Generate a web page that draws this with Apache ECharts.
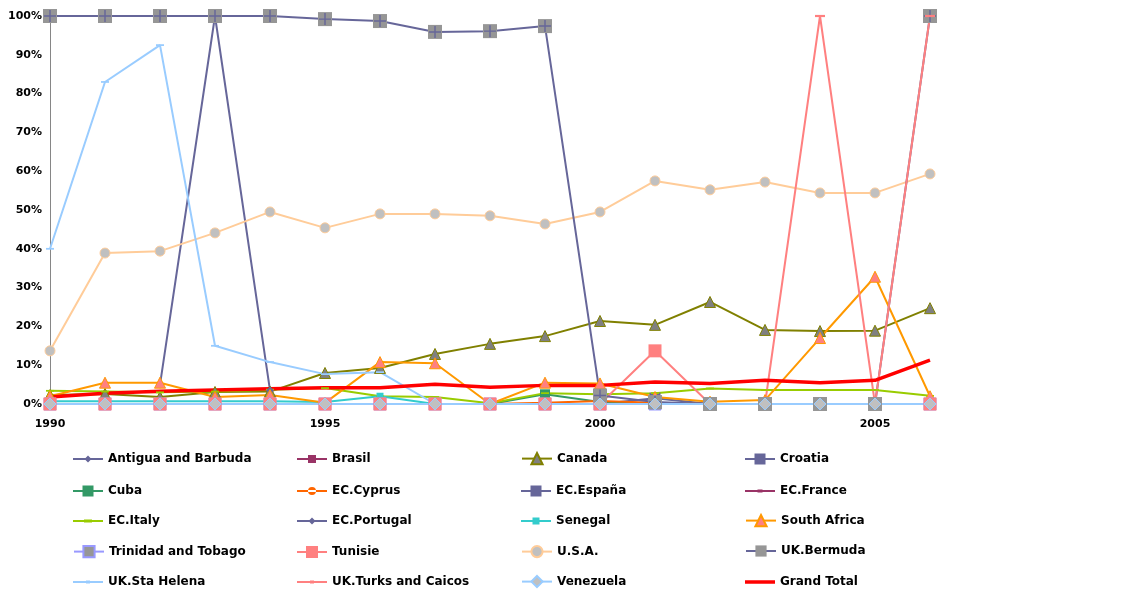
<!DOCTYPE html>
<html>
<head>
<meta charset="utf-8">
<script src="https://cdn.jsdelivr.net/npm/echarts@6/dist/echarts.min.js"></script>
<style>html,body{margin:0;padding:0;background:#fff}#c{width:1135px;height:592px}</style>
</head>
<body>
<div id="c"></div>
<script>
const years = ['1990','1991','1992','1993','1994','1995','1996','1997','1998','1999','2000','2001','2002','2003','2004','2005','2006'];
const antigua   = [0,0,0,0,0,0,0,0,0,0,0,0,0,0,0,0,0];
const brasil    = [0,0,0,0,0,0,0,0,0,0,0,0,0,0,0,0,0];
const canada    = [2.3,2.6,1.8,3.1,3.2,8.0,9.3,12.9,15.5,17.5,21.4,20.4,26.3,19.1,18.8,18.9,24.7];
const croatia   = [0,0,0,0,0,0,0,0,0,0,0,1.5,0,0,0,0,0];
const cuba      = [0,0,0,0,0,0,0,0,0,2.5,0.5,0,0,0,0,0,0];
const cyprus    = [0,0,0,0,0,0,0,0,0,0.3,0.8,0.3,0,0,0,0,0];
const espana    = [0,0,0,0,0,0,0,0,0,0,0,0,0,0,0,0,0];
const france    = [0,0,0,0,0,0,0,0,0,0,0,0,0,0,0,0,0];
const italy     = [3.4,3.2,3.0,3.2,3.7,4.1,2.0,1.8,0.2,2.8,2.5,2.8,4.0,3.6,3.6,3.6,2.1];
const portugal  = [null,null,5,100,3.5,null,null,null,null,null,null,null,null,null,null,null,null];
const senegal   = [0.7,0.7,0.7,0.7,0.7,0.5,2.0,0,0,0,0,0,0,0,0,0,0];
const southAfrica = [2.0,5.5,5.5,1.8,2.3,0.3,10.8,10.5,0,5.5,5.3,1.8,0.6,1.0,17.0,32.8,2.0];
const trinidad  = [0,0,0,0,0,0,0,0,0,0,0,0,0,0,0,0,0];
const tunisie   = [0,0,0,0,0,0,0,0,0,0,0,13.7,0,0,0,0,0];
const usa       = [13.7,38.9,39.4,44.1,49.5,45.4,49.0,49.0,48.5,46.4,49.5,57.5,55.2,57.2,54.4,54.4,59.3];
const bermuda   = [100,100,100,100,100,99.2,98.7,95.9,96.1,97.4,2.2,0.5,0,0,0,0,100];
const staHelena = [40,83,92.5,15,10.8,7.7,8.2,0,0,0,0,0,0,0,0,0,0];
const turks     = [0,0,0,0,0,0,0,0,0,0,0,0,0,0,100,0,100];
const venezuela = [0,0,0,0,0,0,0,0,0,0,0,0,0,0,0,0,0];
const grandTotal = [1.8,2.8,3.3,3.6,3.9,4.2,4.2,5.1,4.3,4.8,4.8,5.7,5.3,6.1,5.5,6.1,11.3];

const DASH = 'path://M0,0h10v2.2h-10z';
const NOSYM = 'path://M0,0h10v0.01h-10z';

// legend icon shapes (30x14 box)
const CORNERS = 'M0,0h0.01v0.01h-0.01z M29.99,13.99h0.01v0.01h-0.01z ';
function icon(shape, s, lw) {
  lw = lw || 2;
  let p = 'path://' + CORNERS + 'M0,' + (7 - lw / 2) + 'h30v' + lw + 'h-30z ';
  const h = s / 2;
  if (shape === 'diamond') p += 'M15,' + (7 - h) + 'l' + h + ',' + h + 'l-' + h + ',' + h + 'l-' + h + ',-' + h + 'z';
  else if (shape === 'square') p += 'M' + (15 - h) + ',' + (7 - h) + 'h' + s + 'v' + s + 'h-' + s + 'z';
  else if (shape === 'circle') p += 'M' + (15 - h) + ',7a' + h + ',' + h + ' 0 1,0 ' + s + ',0a' + h + ',' + h + ' 0 1,0 -' + s + ',0z';
  else if (shape === 'dash') p += 'M' + (15 - h) + ',5.6h' + s + 'v2.8h-' + s + 'z';
  return p;
}
const legendIcons = {
  'Antigua and Barbuda': icon('diamond', 7),
  'Brasil': icon('square', 8),
  'Croatia': icon('square', 11),
  'Cuba': icon('square', 11),
  'EC.Cyprus': icon('circle', 8),
  'EC.España': icon('square', 11),
  'EC.France': icon('dash', 5),
  'EC.Italy': icon('dash', 8),
  'EC.Portugal': icon('diamond', 7),
  'Senegal': icon('square', 7),
  'Tunisie': icon('square', 12),
  'UK.Sta Helena': icon('dash', 4),
  'UK.Turks and Caicos': icon('dash', 4),
  'Grand Total': icon('none', 0, 3.5)
};

function S(name, data, line, sym, size, fill, border, lw) {
  return {
    name: name, type: 'line', data: data,
    symbol: sym, symbolSize: size, symbolKeepAspect: true,
    lineStyle: { color: line, width: lw || 2 },
    itemStyle: { color: fill, borderColor: border || fill, borderWidth: border ? 1 : 0 },
    emphasis: { disabled: true }
  };
}
const series = [
  S('Antigua and Barbuda', antigua, '#666699', 'diamond', 8, '#666699'),
  S('Brasil', brasil, '#993366', 'rect', 7, '#993366'),
  S('Canada', canada, '#808000', 'triangle', 11, '#808080', '#808000'),
  S('Croatia', croatia, '#666699', 'rect', 11, '#666699'),
  S('Cuba', cuba, '#339966', 'rect', 10, '#339966'),
  S('EC.Cyprus', cyprus, '#FF6600', 'circle', 7, '#FF6600'),
  S('EC.España', espana, '#666699', 'rect', 10, '#666699'),
  S('EC.France', france, '#993366', DASH, 6, '#993366'),
  S('EC.Italy', italy, '#99CC00', DASH, 8, '#99CC00'),
  S('EC.Portugal', portugal, '#666699', 'diamond', 8, '#666699'),
  S('Senegal', senegal, '#33CCCC', 'rect', 7, '#33CCCC'),
  S('South Africa', southAfrica, '#FF9900', 'triangle', 11, '#FF8080', '#FF9900'),
  S('Trinidad and Tobago', trinidad, '#9999FF', 'rect', 12, '#969696', '#9999FF'),
  S('Tunisie', tunisie, '#FF8080', 'rect', 13, '#FF8080'),
  S('U.S.A.', usa, '#FFCC99', 'circle', 10, '#C0C0C0', '#FFCC99'),
  S('UK.Bermuda', bermuda, '#666699', 'rect', 14, '#969696'),
  {
    name: 'UK.Bermuda plus', type: 'line', data: bermuda,
    symbol: 'path://M4.4,0h1.2v10h-1.2z M0,4.4h10v1.2h-10z', symbolSize: 12,
    lineStyle: { width: 0, opacity: 0 }, itemStyle: { color: '#666699' },
    emphasis: { disabled: true }
  },
  S('UK.Sta Helena', staHelena, '#99CCFF', DASH, 8, '#99CCFF'),
  S('UK.Turks and Caicos', turks, '#FF8080', DASH, 10, '#FF8080'),
  S('Venezuela', venezuela, '#99CCFF', 'diamond', 12, '#C0C0C0', '#99CCFF'),
  S('Grand Total', grandTotal, '#FF0000', NOSYM, 0, '#FF0000', null, 3.5)
];
series[series.length - 1].showSymbol = false;

const rows = [
  ['Antigua and Barbuda','Brasil','Canada','Croatia'],
  ['Cuba','EC.Cyprus','EC.España','EC.France'],
  ['EC.Italy','EC.Portugal','Senegal','South Africa'],
  ['Trinidad and Tobago','Tunisie','U.S.A.','UK.Bermuda'],
  ['UK.Sta Helena','UK.Turks and Caicos','Venezuela','Grand Total']
];
const colLeft = [73, 297, 521, 745];
const rowTop = [452, 484, 514, 545, 575];
const legends = [];
rows.forEach((r, ri) => r.forEach((name, ci) => {
  const item = { name: name };
  if (legendIcons[name]) item.icon = legendIcons[name];
  legends.push({
    data: [item], orient: 'horizontal', left: colLeft[ci], top: rowTop[ri], padding: 0,
    itemWidth: 30, itemHeight: 14, selectedMode: false,
    textStyle: { fontFamily: 'DejaVu Sans', fontWeight: 'bold', fontSize: 12, color: '#000' }
  });
}));

const chart = echarts.init(document.getElementById('c'), null, { renderer: 'canvas' });
chart.setOption({
  animation: false,
  backgroundColor: '#fff',
  grid: { left: 50, right: 205, top: 16, bottom: 188, containLabel: false },
  legend: legends,
  xAxis: {
    type: 'category', data: years, boundaryGap: false,
    axisLine: { lineStyle: { color: '#868686', width: 1 } },
    axisTick: { show: false },
    axisLabel: { interval: 4, margin: 15, fontFamily: 'DejaVu Sans', fontWeight: 'bold', fontSize: 11, color: '#000' },
    splitLine: { show: false }
  },
  yAxis: {
    type: 'value', min: 0, max: 100, interval: 10,
    axisLine: { show: true, lineStyle: { color: '#868686', width: 1 } },
    axisTick: { show: false },
    axisLabel: { formatter: '{value}%', margin: 8, fontFamily: 'DejaVu Sans', fontWeight: 'bold', fontSize: 11, color: '#000' },
    splitLine: { show: false }
  },
  series: series
});
</script>
</body>
</html>
